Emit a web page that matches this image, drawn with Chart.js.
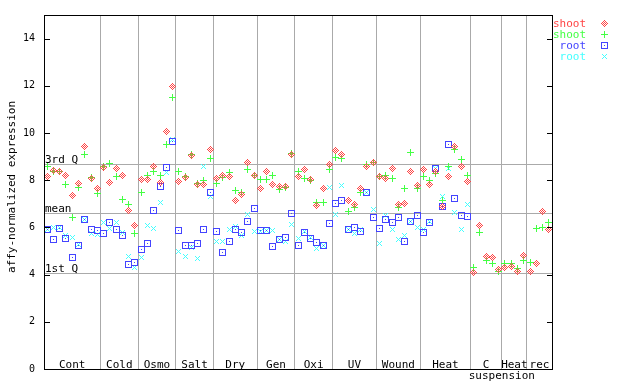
<!DOCTYPE html>
<html>
<head>
<meta charset="utf-8">
<script src="https://cdn.jsdelivr.net/npm/chart.js@4/dist/chart.umd.min.js"></script>
<style>
  html, body { margin: 0; padding: 0; background: #fff; }
  #wrap { width: 640px; height: 384px; }
</style>
</head>
<body>
<div id="wrap"><canvas id="expr"></canvas></div>
<script>
// condition groups along the x axis (number of samples in each)
const groupLabels = ['Cont', 'Cold', 'Osmo', 'Salt', 'Dry', 'Gen', 'Oxi', 'UV', 'Wound', 'Heat', 'C', 'Heat', 'rec'];
const groupSizes = [9, 6, 6, 6, 7, 6, 6, 7, 7, 8, 5, 4, 4];
const yTicks = [0, 2, 4, 6, 8, 10, 12, 14];
const quartileValues = [8.67, 6.61, 4.06];
const quartileLabels = ['3rd Q', 'mean', '1st Q'];
const seriesNames = ['shoot', 'shoot', 'root', 'root'];
const seriesColors = ['#ff4444', '#44ff44', '#4444ff', '#44ffff'];

const shootRep1 = [8.14, 8.39, 8.35, 8.22, 7.34, 7.84, 9.41, 8.06, 7.63,
  8.52, 7.89, 8.48, 8.18, 6.71, 6.07,
  8.01, 8.01, 8.58, 7.89, 10.08, 11.96,
  7.93, 8.10, 9.03, 7.80, 7.80, 9.32,
  8.06, 8.22, 8.14, 7.13, 7.38, 8.77, 8.18,
  7.63, 8.35, 7.80, 7.72, 7.72, 9.07,
  8.14, 8.44, 8.01, 6.92, 7.63, 8.65,
  9.24, 9.11, 7.13, 6.96, 7.63, 8.60, 8.73,
  8.14, 8.06, 8.48, 6.96, 7.00, 8.35, 7.76,
  8.44, 7.80, 8.35, 6.87, 8.14, 9.41, 8.60, 7.93,
  4.09, 6.06, 4.77, 4.72, 4.22,
  4.30, 4.34, 4.13, 4.81,
  4.13, 4.47, 6.66, 5.90];
const shootRep2 = [8.56, 8.35, 8.35, 7.80, 6.41, 7.68, 9.11, 8.10, 7.42,
  8.60, 8.69, 8.14, 7.17, 6.96, 5.74,
  7.47, 8.22, 8.35, 8.22, 9.53, 11.51,
  8.35, 8.14, 9.11, 7.84, 7.97, 8.94,
  7.84, 8.10, 8.31, 7.55, 7.50, 8.44, 8.22,
  8.01, 8.01, 8.18, 7.59, 7.68, 9.15,
  8.35, 8.06, 7.97, 7.04, 7.04, 8.44,
  8.98, 8.94, 6.66, 6.83, 7.50, 8.65, 8.77,
  8.14, 8.22, 8.06, 6.83, 7.63, 9.19, 7.63,
  8.14, 7.97, 8.27, 7.13, 8.60, 9.32, 8.86, 8.18,
  4.30, 5.78, 4.60, 4.47, 4.13,
  4.47, 4.47, 4.26, 4.60,
  4.51, 5.95, 5.99, 6.20];
const rootRep1 = [5.90, 5.48, 5.95, 5.53, 4.72, 5.23, 6.33, 5.90, 5.86,
  5.74, 6.20, 5.90, 5.65, 4.43, 4.51,
  5.06, 5.31, 6.71, 7.72, 8.52, 9.62,
  5.86, 5.23, 5.23, 5.31, 5.90, 7.47,
  5.82, 4.93, 5.40, 5.90, 5.78, 6.24, 6.79,
  5.86, 5.86, 5.19, 5.48, 5.57, 6.58,
  5.23, 5.78, 5.53, 5.36, 5.23, 6.16,
  7.00, 7.13, 5.90, 5.99, 5.82, 7.50, 6.41,
  5.95, 6.33, 6.20, 6.41, 5.40, 6.24, 6.50,
  5.78, 6.20, 8.48, 6.87, 9.53, 7.21, 6.50, 6.45];
const rootRep2 = [5.93, 5.99, 5.99, 5.65, 5.57, 5.27, 6.33, 5.74, 5.69,
  6.20, 5.95, 6.20, 5.78, 4.77, 4.30,
  4.72, 6.07, 5.95, 7.04, 8.31, 9.74,
  4.98, 4.77, 5.15, 4.68, 8.60, 7.30,
  5.40, 5.40, 5.90, 6.03, 5.65, 6.54, 5.82,
  5.82, 5.86, 5.86, 5.48, 5.40, 6.12,
  5.53, 5.82, 5.57, 5.10, 5.23, 7.68,
  6.54, 7.76, 5.90, 5.74, 5.90, 7.50, 6.75,
  5.31, 6.50, 5.90, 5.48, 5.65, 6.24, 5.99,
  5.90, 6.24, 8.48, 7.30, 8.48, 6.62, 5.90, 6.96];

const FONT = "'DejaVu Sans Mono', 'Liberation Mono', monospace";
const nSamples = groupSizes.reduce((a, b) => a + b, 0);
let boundaries = [];
let acc = 0;
groupSizes.forEach(n => { acc += n; boundaries.push(acc); });

// small pixel markers like the original plot
function makeMarker(kind, color) {
  const c = document.createElement('canvas');
  c.width = 7; c.height = 7;
  const g = c.getContext('2d');
  g.fillStyle = color;
  for (let dy = -3; dy <= 3; dy++) {
    for (let dx = -3; dx <= 3; dx++) {
      const d = Math.abs(dx) + Math.abs(dy);
      let on = false;
      if (kind == 'diamond') on = d <= 3 && d % 2 == 1;
      if (kind == 'plus') on = dx == 0 || dy == 0;
      if (kind == 'square') on = Math.abs(dx) == 3 || Math.abs(dy) == 3 || d == 0;
      if (kind == 'cross') on = Math.abs(dx) == Math.abs(dy) && Math.abs(dx) <= 2;
      if (on) g.fillRect(dx + 3, dy + 3, 1, 1);
    }
  }
  return c;
}
const markers = [
  makeMarker('diamond', seriesColors[0]),
  makeMarker('plus', seriesColors[1]),
  makeMarker('square', seriesColors[2]),
  makeMarker('cross', seriesColors[3])
];

function toPoints(vals) {
  return vals.map((v, i) => ({ x: i + 0.5, y: v }));
}

const allSeries = [shootRep1, shootRep2, rootRep1, rootRep2];
const datasets = allSeries.map((vals, k) => ({
  label: seriesNames[k],
  data: toPoints(vals),
  pointStyle: markers[k],
  pointRadius: 3.5,
  showLine: false
}));

const decorPlugin = {
  id: 'decor',
  beforeDatasetsDraw(chart) {
    const ctx = chart.ctx;
    const a = chart.chartArea;
    const y = chart.scales.y;
    ctx.save();
    ctx.strokeStyle = '#aaaaaa';
    ctx.lineWidth = 1;
    ctx.fillStyle = '#000';
    ctx.font = '11px ' + FONT;
    ctx.textBaseline = 'alphabetic';
    ctx.textAlign = 'left';
    quartileValues.forEach((q, i) => {
      const py = Math.round(y.getPixelForValue(q)) + 0.5;
      ctx.beginPath();
      ctx.moveTo(a.left, py);
      ctx.lineTo(a.right, py);
      ctx.stroke();
      ctx.fillText(quartileLabels[i], a.left + 1, py - 1.5);
    });
    ctx.restore();
    ctx.imageSmoothingEnabled = false;
  },
  afterDraw(chart) {
    const ctx = chart.ctx;
    const a = chart.chartArea;
    const x = chart.scales.x;
    const y = chart.scales.y;
    ctx.save();
    ctx.strokeStyle = '#000';
    ctx.lineWidth = 1;
    ctx.strokeRect(a.left + 0.5, a.top + 0.5, a.right - a.left, a.bottom - a.top);
    // inward tick marks on both sides
    yTicks.forEach(v => {
      const py = Math.round(y.getPixelForValue(v)) + 0.5;
      ctx.beginPath();
      ctx.moveTo(a.left, py); ctx.lineTo(a.left + 6, py);
      ctx.moveTo(a.right - 5, py); ctx.lineTo(a.right + 1, py);
      ctx.stroke();
    });
    // group labels
    ctx.fillStyle = '#000';
    ctx.font = '11px ' + FONT;
    ctx.textAlign = 'center';
    let start = 0;
    groupSizes.forEach((n, i) => {
      const cx = x.getPixelForValue(start + n / 2);
      ctx.fillText(groupLabels[i], cx, a.bottom - 1);
      if (groupLabels[i] == 'C') {
        ctx.fillText('suspension', x.getPixelForValue(start + n), a.bottom + 10);
      }
      start += n;
    });
    // y title
    ctx.save();
    ctx.translate(15, (a.top + a.bottom) / 2 - 5);
    ctx.rotate(-Math.PI / 2);
    ctx.fillText('affy-normalized expression', 0, 0);
    ctx.restore();
    // legend
    ctx.textAlign = 'right';
    seriesNames.forEach((name, k) => {
      const by = 27 + k * 11;
      ctx.fillStyle = seriesColors[k];
      ctx.fillText(name, 586, by);
      ctx.imageSmoothingEnabled = false;
      ctx.drawImage(markers[k], 601, by - 7);
    });
    ctx.restore();
  }
};

new Chart(document.getElementById('expr'), {
  type: 'scatter',
  data: { datasets: datasets },
  options: {
    responsive: true,
    maintainAspectRatio: false,
    animation: false,
    events: [],
    layout: { padding: { left: 0, right: 88, top: 13, bottom: 0 } },
    plugins: { legend: { display: false }, tooltip: { enabled: false } },
    scales: {
      x: {
        type: 'linear',
        min: 0,
        max: nSamples,
        afterBuildTicks: s => { s.ticks = boundaries.slice(0, -1).map(v => ({ value: v })); },
        afterFit: s => { s.height = 15; },
        ticks: { display: false },
        grid: { color: '#aaaaaa', lineWidth: 1, drawTicks: false },
        border: { display: false }
      },
      y: {
        min: 0,
        max: 15,
        afterBuildTicks: s => { s.ticks = yTicks.map(v => ({ value: v })); },
        afterFit: s => { s.width = 44; },
        ticks: { color: '#000', font: { family: FONT, size: 10 }, padding: 9 },
        grid: { display: false, drawTicks: false },
        border: { display: false }
      }
    }
  },
  plugins: [decorPlugin]
});
</script>
</body>
</html>
